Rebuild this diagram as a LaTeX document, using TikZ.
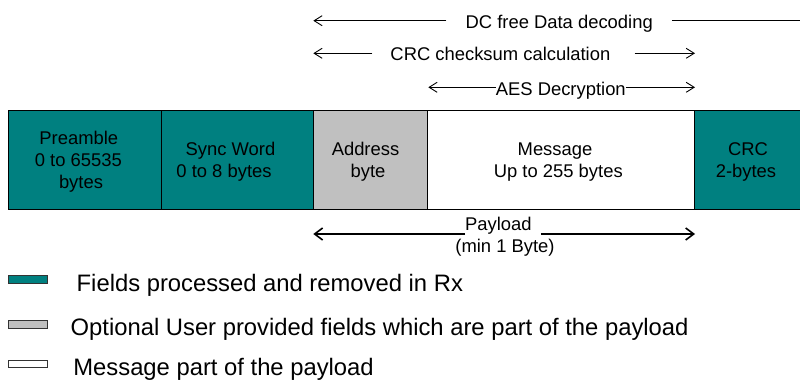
\documentclass[tikz,border=0pt]{standalone}
\usepackage{fontspec}
\setmainfont{Liberation Sans}
\usetikzlibrary{arrows.meta,calc}
\definecolor{tealA}{HTML}{008080}
\definecolor{grayA}{HTML}{C0C0C0}
\begin{document}
\begin{tikzpicture}[x=1pt,y=-1pt,
 cell/.style={draw=black, line width=0.9pt, inner sep=0pt, minimum height=99.3pt, anchor=north west},
 txt/.style={font=\fontsize{18.4}{22}\selectfont, inner sep=0pt, anchor=base},
 leg/.style={font=\fontsize{23.8}{28}\selectfont, inner sep=0pt, anchor=base west},
 sw/.style={draw=black!80, line width=0.8pt, inner sep=0pt, minimum width=38.4pt, anchor=north west},
 arr/.style={line width=0.9pt, -{Straight Barb[length=8pt,width=10pt]}},
 plain/.style={line width=0.9pt},
 parr/.style={line width=1.6pt, -{Straight Barb[length=8pt,width=12pt]}}]
\useasboundingbox (0,0) rectangle (800,383);

% frame cells
\node[cell, fill=tealA, minimum width=152.4pt] (pre) at (8.3,110) {};
\node[cell, fill=tealA, minimum width=152.6pt] (syn) at (160.7,110) {};
\node[cell, fill=grayA, minimum width=114pt] (adr) at (313.3,110) {};
\node[cell, fill=white, minimum width=267pt] (msg) at (427.3,110) {};
\node[cell, fill=tealA, minimum width=106pt] (crc) at (694.3,110) {};

% cell texts
\node[txt] (pre1) at (78.8,144.3) {Preamble};
\node[txt] (pre2) at (78.3,166.5) {0 to 65535};
\node[txt] (pre3) at (81,188.5) {bytes};
\node[txt] (syn1) at (230.5,155) {Sync Word};
\node[txt] (syn2) at (224,177) {0 to 8 bytes};
\node[txt] (adr1) at (365.5,155) {Address};
\node[txt] (adr2) at (368,177) {byte};
\node[txt] (msg1) at (555,155) {Message};
\node[txt] (msg2) at (558.3,177) {Up to 255 bytes};
\node[txt] (crc1) at (748,155) {CRC};
\node[txt] (crc2) at (746,177) {2-bytes};

% top ranges
\node[txt, inner xsep=19pt] (dc) at (559.2,28.3) {DC free Data decoding};
\coordinate (dcL) at (313.3,20.7);
\coordinate (dcR) at (801,20.7);
\draw[arr] (dc.west |- dcL) -- (dcL);
\draw[plain] (dc.east |- dcR) -- (dcR);

\node[txt] (ck) at (500.4,60) {CRC checksum calculation};
\coordinate (ckL) at (313.3,53.3);
\coordinate (ckR) at (695,53.3);
\draw[arr] ($(ck.west |- ckL)+(-18,0)$) -- (ckL);
\draw[arr] ($(ck.east |- ckR)+(24,0)$) -- (ckR);

\node[txt] (aes) at (560.8,95) {AES Decryption};
\coordinate (aesL) at (428.3,87.3);
\coordinate (aesR) at (695,87.3);
\draw[arr] (aes.west |- aesL) -- (aesL);
\draw[arr] (aes.east |- aesR) -- (aesR);

% payload
\node[txt, anchor=base west] (pay) at (465,230.7) {Payload};
\node[txt] (pmin) at (505,252) {(min 1 Byte)};
\coordinate (payL) at (313.3,234);
\coordinate (payR) at (695,234);
\draw[parr] (pay.west |- payL) -- (payL);
\draw[parr] ($(pay.east |- payR)+(9,0)$) -- (payR);

% legend
\node[sw, fill=tealA, minimum height=8.3pt] (s1) at (8.3,275) {};
\node[leg] (l1) at (76.5,291.7) {Fields processed and removed in Rx};
\node[sw, fill=grayA, minimum height=7.7pt] (s2) at (8.3,320) {};
\node[leg] (l2) at (70.5,335.7) {Optional User provided fields which are part of the payload};
\node[sw, fill=white, minimum height=6.7pt] (s3) at (8.3,360) {};
\node[leg] (l3) at (73.2,375.7) {Message part of the payload};
\end{tikzpicture}
\end{document}
